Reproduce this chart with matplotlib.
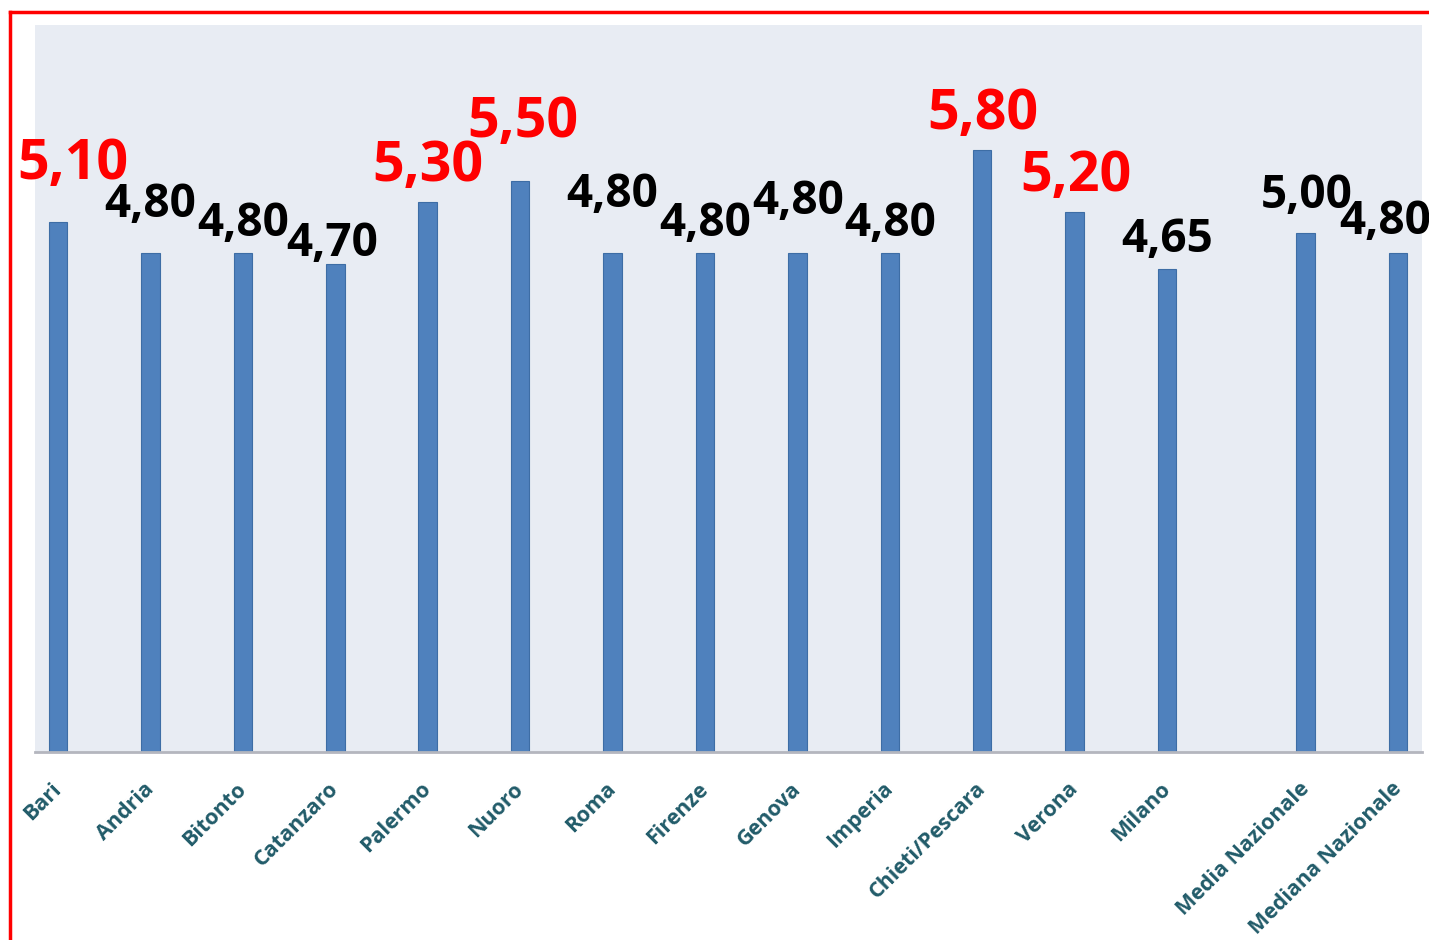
import matplotlib
matplotlib.use("Agg")
import matplotlib.pyplot as plt
import matplotlib.transforms as mtransforms
from matplotlib.lines import Line2D
import numpy as np

# data
cities = ["Bari", "Andria", "Bitonto", "Catanzaro", "Palermo", "Nuoro", "Roma",
          "Firenze", "Genova", "Imperia", "Chieti/Pescara", "Verona", "Milano",
          "Media Nazionale", "Mediana Nazionale"]
values = [5.10, 4.80, 4.80, 4.70, 5.30, 5.50, 4.80, 4.80, 4.80, 4.80, 5.80,
          5.20, 4.65, 5.00, 4.80]
highlight = [True, False, False, False, True, True, False, False, False, False,
             True, True, False, False, False]

# positions on the axis (gap before the national figures)
positions = list(range(13)) + [13.5, 14.5]

# label offsets from the bar top, in pixels (x, y)
label_offsets = [(15, 43), (0, 36), (0, 17), (-3, 8), (0, 21), (3, 44), (0, 46),
                 (0, 17), (1, 39), (0, 17), (1, 21), (1, 21), (0, 17), (1, 25),
                 (-13, 19)]

fig = plt.figure(figsize=(14.29, 9.40), dpi=100)
ax = fig.add_axes([35 / 1429, 1 - 752 / 940, (1422 - 35) / 1429, (752 - 25) / 940])

ax.set_facecolor("#E8ECF3")
ax.bar(positions, values, width=0.2, color="#4F81BD", edgecolor="#3D6DA5",
       linewidth=0.8, zorder=2)

ax.set_xlim(-0.25, 14.76)
ax.set_ylim(0, 7.0)

for s in ["top", "right", "left"]:
    ax.spines[s].set_visible(False)
ax.spines["bottom"].set_color("#B4B6BE")
ax.spines["bottom"].set_linewidth(2)

ax.set_yticks([])
ax.set_xticks(positions)
ax.set_xticklabels(cities, rotation=45, ha="right", va="top",
                   rotation_mode="anchor", fontsize=15.5, fontweight="bold",
                   family="Open Sans", color="#215B69")
ax.tick_params(axis="x", length=0, pad=19)
shift = mtransforms.ScaledTranslation(-7 / 100, 0, fig.dpi_scale_trans)
for lbl in ax.get_xticklabels():
    lbl.set_transform(lbl.get_transform() + shift)

px = 72.0 / fig.dpi
for pos, val, hl, (dx, dy) in zip(positions, values, highlight, label_offsets):
    txt = ("%.2f" % val).replace(".", ",")
    ax.annotate(txt, xy=(pos, val), xytext=(dx * px, dy * px),
                textcoords="offset points", ha="center", va="baseline",
                fontsize=40 if hl else 33, fontweight="bold",
                family="Open Sans", color="#FF0000" if hl else "#000000",
                annotation_clip=False, zorder=3)

# red frame on the left and top
fig.add_artist(Line2D([10 / 1429, 10 / 1429], [0, 1 - 12 / 940],
                      transform=fig.transFigure, color="#FF0000", linewidth=2.5))
fig.add_artist(Line2D([10 / 1429, 1], [1 - 12 / 940, 1 - 12 / 940],
                      transform=fig.transFigure, color="#FF0000", linewidth=2.5))

fig.savefig("out.png", dpi=100)
